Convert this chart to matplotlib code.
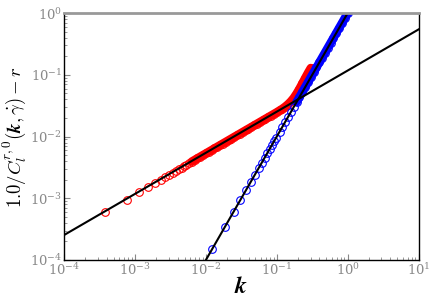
import matplotlib
matplotlib.use("Agg")
import matplotlib.pyplot as plt

plt.rcParams['mathtext.fontset'] = 'cm'
plt.rcParams['font.family'] = ['DejaVu Serif']

# red series: isolated points (low k) then dense band
red_k = [3.83e-4, 7.66e-4, 1.149e-3, 1.532e-3, 1.915e-3, 2.298e-3, 2.681e-3,
         3.064e-3, 3.447e-3, 3.83e-3, 4.213e-3, 4.596e-3, 4.979e-3,
         0.00525, 0.005754, 0.006310, 0.006918, 0.007586, 0.008318, 0.009120,
         0.01, 0.010965, 0.012023, 0.013183, 0.014454, 0.015849, 0.017378,
         0.019055, 0.020893, 0.022909, 0.025119, 0.027542, 0.030200, 0.033113,
         0.036308, 0.039811, 0.043652, 0.047863, 0.052481, 0.057544, 0.063096,
         0.069183, 0.075858, 0.083176, 0.091201, 0.1, 0.10965, 0.12023,
         0.13183, 0.14454, 0.15849, 0.17378, 0.19055, 0.20893, 0.22909,
         0.25119, 0.27542, 0.30200]
red_y = [6.00e-4, 9.52e-4, 1.248e-3, 1.512e-3, 1.754e-3, 1.981e-3, 2.195e-3,
         2.400e-3, 2.596e-3, 2.785e-3, 2.968e-3, 3.145e-3, 3.317e-3,
         3.475e-3, 3.695e-3, 3.929e-3, 4.178e-3, 4.443e-3, 4.724e-3, 5.023e-3,
         5.340e-3, 5.679e-3, 6.039e-3, 6.421e-3, 6.827e-3, 7.261e-3, 7.720e-3,
         8.209e-3, 8.729e-3, 9.283e-3, 9.870e-3, 1.0495e-2, 1.1160e-2, 1.1867e-2,
         1.2619e-2, 1.3418e-2, 1.4268e-2, 1.5171e-2, 1.6132e-2, 1.7153e-2, 1.8240e-2,
         1.9396e-2, 2.0623e-2, 2.1930e-2, 2.3318e-2, 2.4795e-2, 2.65e-2, 2.83e-2,
         3.06e-2, 3.35e-2, 3.73e-2, 4.24e-2, 4.98e-2, 5.96e-2,
         7.25e-2, 8.85e-2, 1.075e-1, 1.29e-1]

# blue series: isolated points then dense band
blue_k = [0.01228, 0.01842, 0.02456, 0.0307, 0.03684, 0.04298, 0.04912,
          0.05526, 0.0614, 0.06754, 0.07368, 0.07982, 0.08596, 0.0921, 0.09824,
          0.10965, 0.12023, 0.13183, 0.14454, 0.15849, 0.17378, 0.19055,
          0.20893, 0.22909, 0.25119, 0.27542, 0.30200, 0.33113, 0.36308,
          0.39811, 0.43652, 0.47863, 0.52481, 0.57544, 0.63096, 0.69183,
          0.75858, 0.83176, 0.91201, 1.0, 1.0965]
blue_y = [1.508e-4, 3.393e-4, 6.032e-4, 9.425e-4, 1.357e-3, 1.847e-3, 2.413e-3,
          3.054e-3, 3.770e-3, 4.562e-3, 5.429e-3, 6.371e-3, 7.389e-3, 8.482e-3,
          9.651e-3, 1.2023e-2, 1.4455e-2, 1.7379e-2, 2.0892e-2, 2.5119e-2,
          3.0200e-2, 3.6310e-2, 4.3652e-2, 5.2482e-2, 6.3096e-2, 7.5856e-2,
          9.1204e-2, 0.10965, 0.13183, 0.15849, 0.19055, 0.22909, 0.27542,
          0.33113, 0.39811, 0.47863, 0.57544, 0.69183, 0.83176, 1.0, 1.2023]

# index where each series becomes a continuous band of overlapping circles
red_band_start = 15
blue_band_start = 21

# fit lines
fit1_k = [1e-4, 1e1]
fit1_y = [2.54e-4, 0.544]
fit2_k = [0.009, 1.1]
fit2_y = [8.1e-5, 1.21]

fig = plt.figure(figsize=(4.36, 3.05), dpi=100)
ax = fig.add_axes([0.147, 0.1475, 0.813, 0.8095])

ms = 5.5
ax.plot(red_k, red_y, 'o', ms=ms, mfc='none', mec='red', mew=0.8)
ax.plot(red_k[red_band_start:], red_y[red_band_start:], '-', color='red',
        lw=ms + 0.6, solid_capstyle='round', solid_joinstyle='round')
ax.plot(blue_k, blue_y, 'o', ms=ms, mfc='none', mec='blue', mew=0.8)
ax.plot(blue_k[blue_band_start:], blue_y[blue_band_start:], '-', color='blue',
        lw=ms + 0.6, solid_capstyle='round', solid_joinstyle='round')
ax.plot(fit1_k, fit1_y, '-', color='black', lw=1.5)
ax.plot(fit2_k, fit2_y, '-', color='black', lw=1.5)

ax.set_xscale('log')
ax.set_yscale('log')
ax.set_xlim(1e-4, 1e1)
ax.set_ylim(1e-4, 1e0)

ax.set_xlabel(r'$\boldsymbol{k}$', fontsize=17, labelpad=-2)
ax.set_ylabel(r'$1.0/C_l^{r,0}(\boldsymbol{k},\dot{\gamma})-r$', fontsize=13.5)
ax.yaxis.set_label_coords(-0.103, 0.5)

ax.tick_params(which='both', direction='in', colors='#888888', labelsize=9.5,
               top=False, right=False, pad=1.5)
ax.tick_params(which='major', length=4, width=0.8)
ax.tick_params(which='minor', length=2, width=0.6)
for s in ['left', 'bottom', 'right']:
    ax.spines[s].set_color('black')
    ax.spines[s].set_linewidth(1.0)
ax.spines['top'].set_color('#999999')
ax.spines['top'].set_linewidth(2.0)

fig.savefig('out.png', dpi=100)
